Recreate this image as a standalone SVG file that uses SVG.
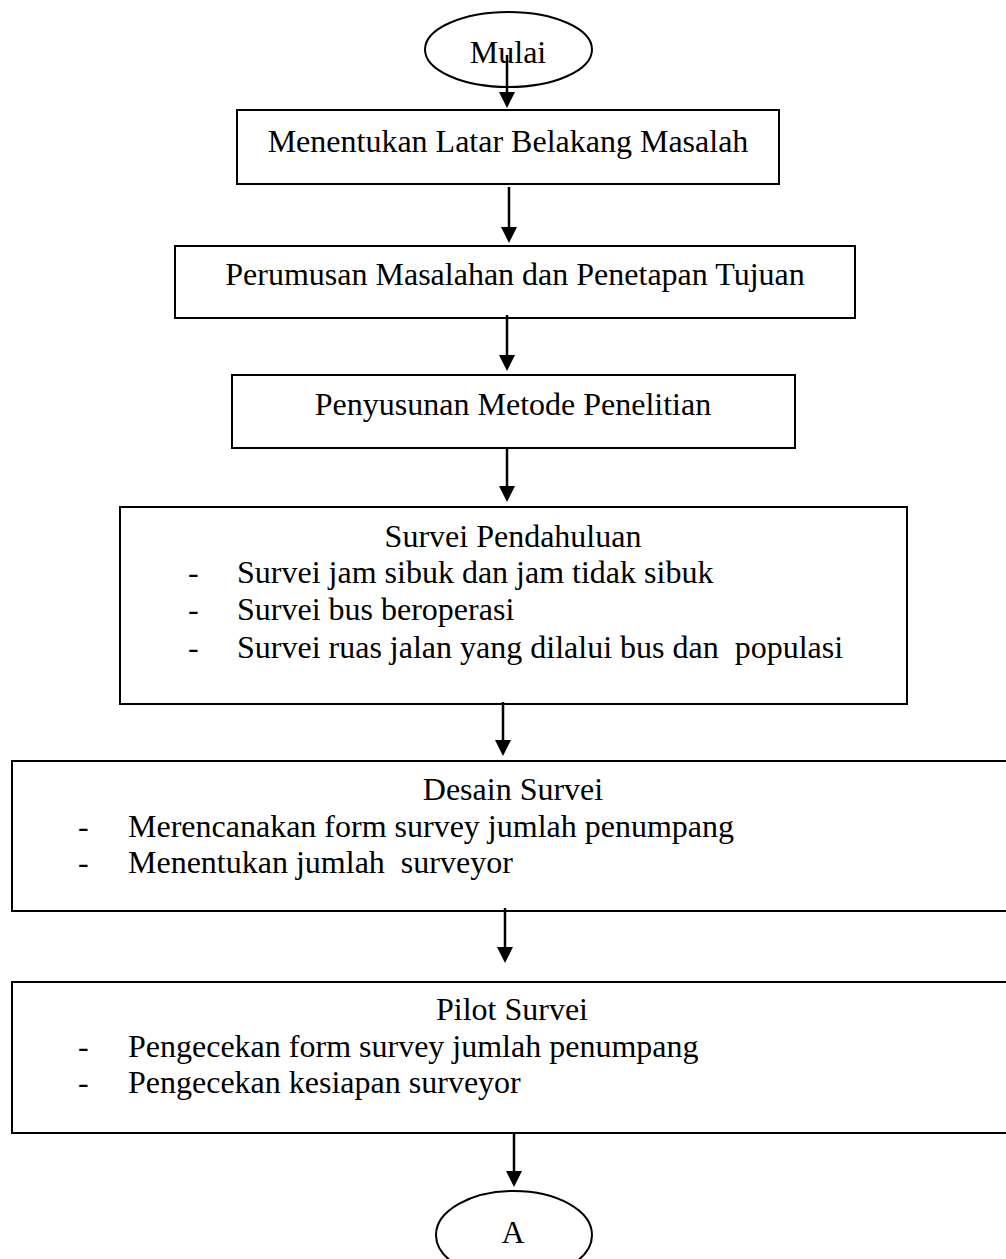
<svg xmlns="http://www.w3.org/2000/svg" width="1006" height="1259" viewBox="0 0 1006 1259">
<style>
.box{fill:#fff;stroke:#000;stroke-width:2}
.term{fill:#fff;stroke:#000;stroke-width:2}
.t{font-family:"Liberation Serif","Times New Roman",serif;font-size:32px;fill:#000}
.c{text-anchor:middle}
.edge{stroke:#000;stroke-width:2.5;fill:none;marker-end:url(#ah)}
</style>
<defs>
<marker id="ah" viewBox="0 0 16 16" refX="4" refY="8" markerWidth="16" markerHeight="16" markerUnits="userSpaceOnUse" orient="auto">
<path d="M0,0 L16,8 L0,16 z" fill="#000"/>
</marker>
</defs>
<rect width="1006" height="1259" fill="#fff"/>
<g id="start">
<ellipse class="term" cx="508.5" cy="49.5" rx="83.5" ry="37.5"/>
<text class="t c" x="508" y="63">Mulai</text>
</g>
<g id="n1">
<rect class="box" x="237" y="110" width="542" height="74"/>
<text class="t c" x="508" y="152">Menentukan Latar Belakang Masalah</text>
</g>
<g id="n2">
<rect class="box" x="175" y="246" width="680" height="72"/>
<text class="t c" x="515" y="285">Perumusan Masalahan dan Penetapan Tujuan</text>
</g>
<g id="n3">
<rect class="box" x="232" y="375" width="563" height="73"/>
<text class="t c" x="513" y="415">Penyusunan Metode Penelitian</text>
</g>
<g id="n4">
<rect class="box" x="120" y="507" width="787" height="197"/>
<text class="t c" x="513" y="547">Survei Pendahuluan</text>
<text class="t" x="188" y="583">-</text>
<text class="t" x="237" y="583">Survei jam sibuk dan jam tidak sibuk</text>
<text class="t" x="188" y="620">-</text>
<text class="t" x="237" y="620">Survei bus beroperasi</text>
<text class="t" x="188" y="658">-</text>
<text class="t" x="237" y="658" xml:space="preserve">Survei ruas jalan yang dilalui bus dan  populasi</text>
</g>
<g id="n5">
<rect class="box" x="12" y="761" width="1002" height="150"/>
<text class="t c" x="513" y="800">Desain Survei</text>
<text class="t" x="78" y="837">-</text>
<text class="t" x="128" y="837">Merencanakan form survey jumlah penumpang</text>
<text class="t" x="78" y="873">-</text>
<text class="t" x="128" y="873" xml:space="preserve">Menentukan jumlah  surveyor</text>
</g>
<g id="n6">
<rect class="box" x="12" y="982" width="1002" height="151"/>
<text class="t c" x="512" y="1020">Pilot Survei</text>
<text class="t" x="78" y="1057">-</text>
<text class="t" x="128" y="1057">Pengecekan form survey jumlah penumpang</text>
<text class="t" x="78" y="1093">-</text>
<text class="t" x="128" y="1093">Pengecekan kesiapan surveyor</text>
</g>
<g id="end">
<ellipse class="term" cx="514" cy="1235" rx="78" ry="44"/>
<text class="t c" x="513" y="1243">A</text>
</g>
<g id="connectors">
<line class="edge" x1="507" y1="55" x2="507" y2="96"/>
<line class="edge" x1="509" y1="187" x2="509" y2="231"/>
<line class="edge" x1="507" y1="315" x2="507" y2="359"/>
<line class="edge" x1="507" y1="447" x2="507" y2="490"/>
<line class="edge" x1="503" y1="702" x2="503" y2="744"/>
<line class="edge" x1="505" y1="908" x2="505" y2="951"/>
<line class="edge" x1="514" y1="1133" x2="514" y2="1175"/>
</g>
</svg>
